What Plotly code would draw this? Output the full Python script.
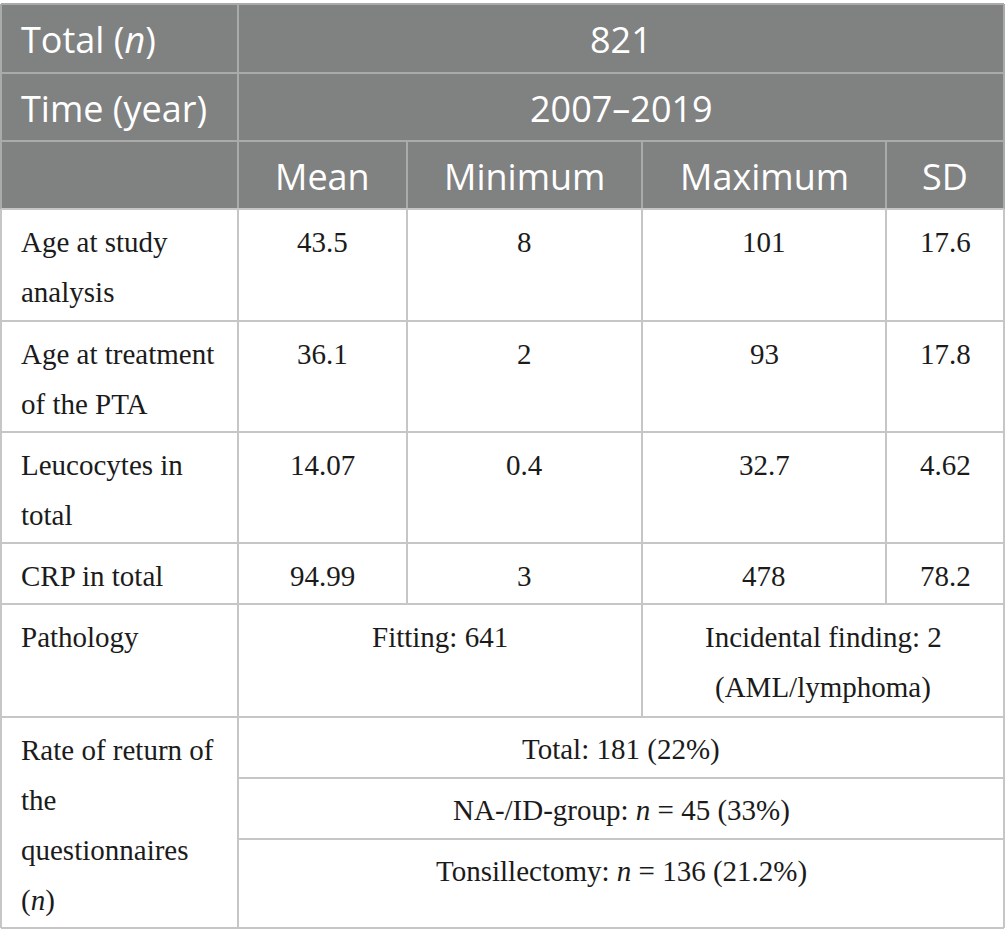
import plotly.graph_objects as go

# ---------------- data ----------------
header_labels = ["Total (<i>n</i>)", "Time (year)"]
header_values = ["821", "2007–2019"]
stat_columns = ["Mean", "Minimum", "Maximum", "SD"]

row_labels = [
    ["Age at study", "analysis"],
    ["Age at treatment", "of the PTA"],
    ["Leucocytes in", "total"],
    ["CRP in total"],
]
mean_vals = ["43.5", "36.1", "14.07", "94.99"]
min_vals = ["8", "2", "0.4", "3"]
max_vals = ["101", "93", "32.7", "478"]
sd_vals = ["17.6", "17.8", "4.62", "78.2"]

pathology_label = ["Pathology"]
pathology_fitting = ["Fitting: 641"]
pathology_incidental = ["Incidental finding: 2", "(AML/lymphoma)"]

return_label = ["Rate of return of", "the", "questionnaires", "(<i>n</i>)"]
return_values = [
    "Total: 181 (22%)",
    "NA-/ID-group: <i>n</i> = 45 (33%)",
    "Tonsillectomy: <i>n</i> = 136 (21.2%)",
]

# ---------------- layout geometry ----------------
W, H = 1005, 946
col_edges = [1, 238, 407, 642, 886, 1004]
header_edges = [4, 73, 141, 209]
body_edges = [209, 321, 432, 543, 604]
path_edges = [604, 717]
ret_edges = [717, 778, 839, 928]

HEADER_BG = "#808181"
HEADER_LINE = "#a9aaaa"
BODY_LINE = "#c6c6c6"
BODY_TXT = "#1b1b1b"
SANS = "Open Sans"
SERIF = "Liberation Serif"
HS = 36
BS = 29
LEFT_PAD = 19
TOP_OFF = 33
LINE_H = 50

shapes = []
annotations = []


def hline(y, x0, x1, color):
    shapes.append(dict(type="line", xref="x", yref="y", x0=x0, x1=x1, y0=y, y1=y,
                       line=dict(color=color, width=2), layer="above"))


def vline(x, y0, y1, color):
    shapes.append(dict(type="line", xref="x", yref="y", x0=x, x1=x, y0=y0, y1=y1,
                       line=dict(color=color, width=2), layer="above"))


def text(x, y, s, anchor="center", font=SERIF, size=BS, color=BODY_TXT):
    annotations.append(dict(x=x, y=y, xref="x", yref="y", text=s, showarrow=False,
                            xanchor=anchor, yanchor="middle",
                            font=dict(family=font, size=size, color=color)))


def lines_text(x, top, lines, anchor="center"):
    for i, s in enumerate(lines):
        text(x, top + TOP_OFF + LINE_H * i, s, anchor=anchor)


def mid(a, b):
    return (a + b) / 2

# header background
shapes.append(dict(type="rect", xref="x", yref="y", x0=col_edges[0], x1=col_edges[-1],
                   y0=header_edges[0], y1=header_edges[-1],
                   fillcolor=HEADER_BG, line=dict(width=0), layer="below"))

# header lines
for y in header_edges[:-1]:
    hline(y, col_edges[0], col_edges[-1], HEADER_LINE)
vline(col_edges[0], header_edges[0], header_edges[-1], HEADER_LINE)
vline(col_edges[-1], header_edges[0], header_edges[-1], HEADER_LINE)
vline(col_edges[1], header_edges[0], header_edges[-1], HEADER_LINE)
for x in col_edges[2:-1]:
    vline(x, header_edges[2], header_edges[3], HEADER_LINE)

# header text
for i, (lab, val) in enumerate(zip(header_labels, header_values)):
    yc = mid(header_edges[i], header_edges[i + 1]) + 1
    text(LEFT_PAD, yc, lab, anchor="left", font=SANS, size=HS, color="white")
    text(mid(col_edges[1], col_edges[-1]), yc, val, font=SANS, size=HS, color="white")
yc = mid(header_edges[2], header_edges[3]) + 1
for j, c in enumerate(stat_columns):
    text(mid(col_edges[j + 1], col_edges[j + 2]), yc, c, font=SANS, size=HS, color="white")

# body lines
for y in body_edges + path_edges + [ret_edges[-1]]:
    hline(y, col_edges[0], col_edges[-1], BODY_LINE)
for y in ret_edges[1:-1]:
    hline(y, col_edges[1], col_edges[-1], BODY_LINE)
vline(col_edges[0], header_edges[-1], ret_edges[-1], BODY_LINE)
vline(col_edges[-1], header_edges[-1], ret_edges[-1], BODY_LINE)
vline(col_edges[1], header_edges[-1], ret_edges[-1], BODY_LINE)
vline(col_edges[2], body_edges[0], body_edges[-1], BODY_LINE)
vline(col_edges[3], body_edges[0], path_edges[-1], BODY_LINE)
vline(col_edges[4], body_edges[0], body_edges[-1], BODY_LINE)

# body text
stat_data = [mean_vals, min_vals, max_vals, sd_vals]
for i, lab in enumerate(row_labels):
    top = body_edges[i]
    lines_text(LEFT_PAD, top, lab, anchor="left")
    for j, col in enumerate(stat_data):
        lines_text(mid(col_edges[j + 1], col_edges[j + 2]), top, [col[i]])

# pathology
lines_text(LEFT_PAD, path_edges[0], pathology_label, anchor="left")
lines_text(mid(col_edges[1], col_edges[3]), path_edges[0], pathology_fitting)
lines_text(mid(col_edges[3], col_edges[5]), path_edges[0], pathology_incidental)

# return rate
lines_text(LEFT_PAD, ret_edges[0], return_label, anchor="left")
for k, s in enumerate(return_values):
    text(mid(col_edges[1], col_edges[-1]), ret_edges[k] + TOP_OFF - 1, s)

fig = go.Figure()
fig.update_layout(
    width=W, height=H,
    margin=dict(l=0, r=0, t=0, b=0),
    paper_bgcolor="white", plot_bgcolor="white",
    xaxis=dict(range=[0, W], visible=False, fixedrange=True),
    yaxis=dict(range=[H, 0], visible=False, fixedrange=True),
    shapes=shapes, annotations=annotations, showlegend=False,
)
fig.write_html(
    "out.html",
    config={"displayModeBar": False},
    post_script="document.body.style.margin='0';document.body.style.overflow='hidden';",
)
